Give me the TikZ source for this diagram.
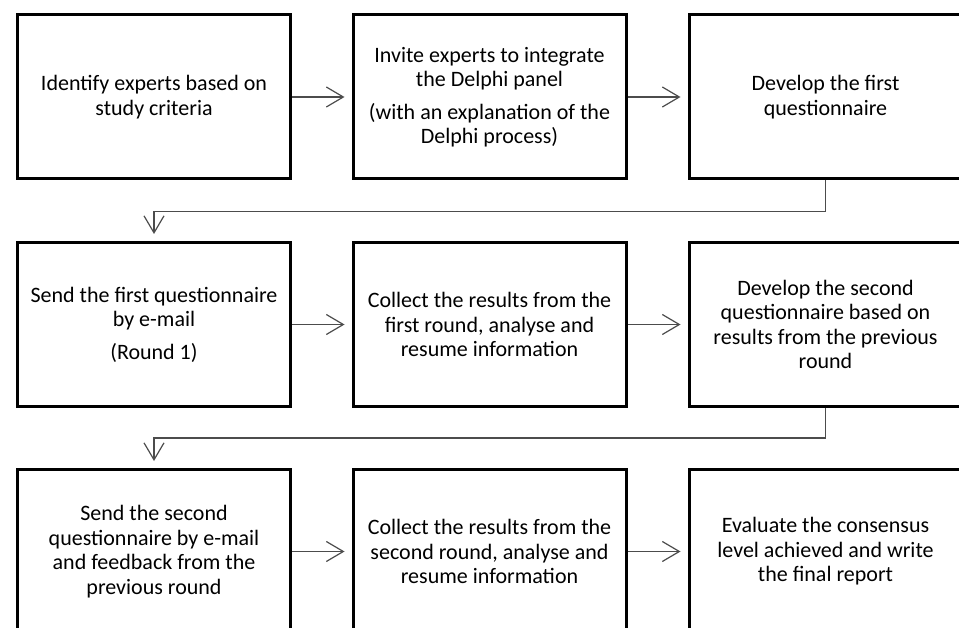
\documentclass[tikz,border=0pt]{standalone}
\usepackage{fontspec}
\setmainfont{Carlito}
\usetikzlibrary{arrows.meta}
\tikzset{
  stepbox/.style={draw=black, line width=3pt, rectangle, minimum width=273pt, minimum height=164pt, align=center, inner sep=0pt, font=\fontsize{22}{24.5}\selectfont, text=black},
  conn/.style={draw=black!70, line width=1.4pt, -{Straight Barb[length=17pt,width=20pt,line width=1.2pt]}, shorten >=7pt},
}
\begin{document}
\begin{tikzpicture}[x=1pt,y=-1pt]
\useasboundingbox (0,0) rectangle (959,628);
\clip (0,0) rectangle (959,628);
\fill[white] (0,0) rectangle (959,628);
\node[stepbox] (b1) at (154,97) {Identify experts based on\\study criteria};
\node[stepbox] (b2) at (489.5,97) {Invite experts to integrate\\the Delphi panel\\[8pt](with an explanation of the\\Delphi process)};
\node[stepbox] (b3) at (825.5,97) {Develop the first\\questionnaire};
\node[stepbox] (b4) at (154,324.5) {Send the first questionnaire\\by e-mail\\[8pt](Round 1)};
\node[stepbox] (b5) at (489.5,324.5) {Collect the results from the\\first round, analyse and\\resume information};
\node[stepbox] (b6) at (825.5,324.5) {Develop the second\\questionnaire based on\\results from the previous\\round};
\node[stepbox] (b7) at (154,551.5) {Send the second\\questionnaire by e-mail\\and feedback from the\\previous round};
\node[stepbox] (b8) at (489.5,551.5) {Collect the results from the\\second round, analyse and\\resume information};
\node[stepbox] (b9) at (825.5,551.5) {Evaluate the consensus\\level achieved and write\\the final report};
\draw[conn] (b1) -- (b2);
\draw[conn] (b2) -- (b3);
\draw[conn] (b4) -- (b5);
\draw[conn] (b5) -- (b6);
\draw[conn] (b7) -- (b8);
\draw[conn] (b8) -- (b9);
\draw[conn] (b3.south) -- ++(0,31) -| (b4.north);
\draw[conn] (b6.south) -- ++(0,30) -| (b7.north);
\end{tikzpicture}
\end{document}
